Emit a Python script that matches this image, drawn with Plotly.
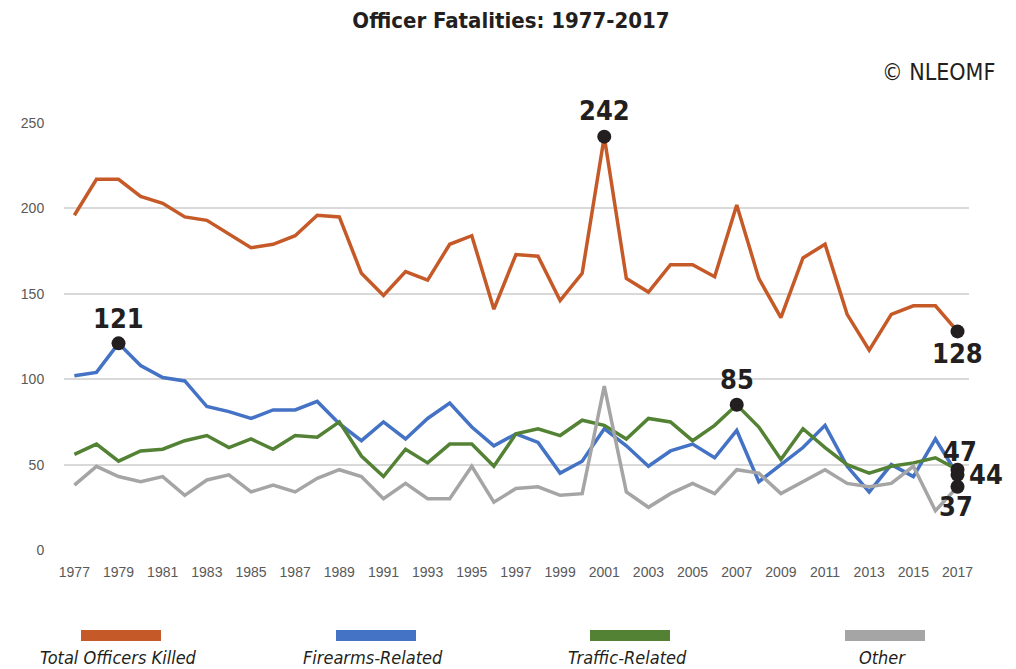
import plotly.graph_objects as go

# data
years = list(range(1977, 2018))
total = [196, 217, 217, 207, 203, 195, 193, 185, 177, 179, 184, 196, 195, 162,
         149, 163, 158, 179, 184, 141, 173, 172, 146, 162, 242, 159, 151, 167,
         167, 160, 202, 159, 136, 171, 179, 138, 117, 138, 143, 143, 128]
firearms = [102, 104, 121, 108, 101, 99, 84, 81, 77, 82, 82, 87, 74, 64,
            75, 65, 77, 86, 72, 61, 68, 63, 45, 52, 71, 61, 49, 58,
            62, 54, 70, 40, 50, 60, 73, 49, 34, 50, 43, 65, 44]
traffic = [56, 62, 52, 58, 59, 64, 67, 60, 65, 59, 67, 66, 75, 55,
           43, 59, 51, 62, 62, 49, 68, 71, 67, 76, 73, 65, 77, 75,
           64, 73, 85, 72, 53, 71, 60, 50, 45, 49, 51, 54, 47]
other = [38, 49, 43, 40, 43, 32, 41, 44, 34, 38, 34, 42, 47, 43,
         30, 39, 30, 30, 49, 28, 36, 37, 32, 33, 96, 34, 25, 33,
         39, 33, 47, 45, 33, 40, 47, 39, 37, 39, 49, 23, 37]

series_names = ['Total Officers Killed', 'Firearms-Related', 'Traffic-Related', 'Other']
series_values = [total, firearms, traffic, other]
colors = ['#c55a28', '#4472c4', '#548235', '#a5a5a5']

# highlighted points: (series index, year)
highlights = [(1, 1979), (0, 2001), (2, 2007), (0, 2017), (2, 2017), (1, 2017), (3, 2017)]

# page is offset by the 8px body margin
OFF = 8
W, H = 1016 - OFF, 669 - OFF
L, R, T, B = 64, 969, 123, 550   # plot area in page pixels

COND = 'DejaVu Sans Condensed, Liberation Sans, sans-serif'
TICKFONT = dict(size=14, color='#595959', family='Liberation Sans, Arial, sans-serif')


def px(x):
    return (x - L) / (R - L)


def py(y):
    return (B - y) / (B - T)


fig = go.Figure()

for name, vals, c in zip(series_names, series_values, colors):
    fig.add_trace(go.Scatter(x=years, y=vals, name=name, mode='lines',
                             line=dict(color=c, width=3.5), showlegend=False))

hx = [yr for s, yr in highlights]
hy = [series_values[s][years.index(yr)] for s, yr in highlights]
fig.add_trace(go.Scatter(x=hx, y=hy, mode='markers', showlegend=False,
                         marker=dict(color='#231f20', size=14), cliponaxis=False))

# label offsets in pixels for each highlight
offsets = [(0, 25), (0, 26), (0, 25), (0, -22), (2, 18), (28, 0), (-2, -20)]
for (s, yr), (dx, dy), v in zip(highlights, offsets, hy):
    fig.add_annotation(x=yr, y=v, text=f'<b>{v}</b>', showarrow=False,
                       xshift=dx, yshift=dy,
                       font=dict(size=27, color='#231f20', family=COND))

# legend drawn below the chart
legend_centers = [121, 376, 630, 885]
for name, c, cx in zip(series_names, colors, legend_centers):
    fig.add_shape(type='rect', xref='paper', yref='paper',
                  x0=px(cx - 40), x1=px(cx + 40), y0=py(641), y1=py(630),
                  fillcolor=c, line=dict(width=0))
    fig.add_annotation(xref='paper', yref='paper', x=px(cx - 3), y=py(657),
                       xanchor='center', yanchor='middle',
                       text=f'<i>{name}</i>', showarrow=False,
                       font=dict(size=18, color='#231f20', family=COND))

fig.add_annotation(xref='paper', yref='paper', x=px(938), y=py(72),
                   xanchor='center', yanchor='middle',
                   text='© NLEOMF', showarrow=False,
                   font=dict(size=23, color='#231f20', family=COND))

fig.update_layout(
    width=W, height=H,
    margin=dict(l=L - OFF, r=W - (R - OFF), t=T - OFF, b=H - (B - OFF), pad=0),
    paper_bgcolor='white', plot_bgcolor='white',
    title=dict(text='<b>Officer Fatalities: 1977-2017</b>', x=px(511), xref='paper', xanchor='center',
               y=1 - (20 - OFF) / H, yanchor='middle',
               font=dict(size=22, color='#231f20', family=COND)),
    xaxis=dict(range=[1976.53, 2017.52], tickmode='array', tickvals=years[::2],
               showgrid=False, zeroline=False, showline=False,
               ticks='outside', ticklen=9, tickcolor='rgba(0,0,0,0)',
               tickfont=TICKFONT),
    yaxis=dict(range=[0, 250], tickvals=[0, 50, 100, 150, 200, 250],
               showgrid=True, gridcolor='#d9d9d9', gridwidth=1.5,
               zeroline=False, showline=False, ticks='outside', ticklen=16,
               tickcolor='rgba(0,0,0,0)',
               tickfont=TICKFONT),
)

fig.write_html('out.html')
